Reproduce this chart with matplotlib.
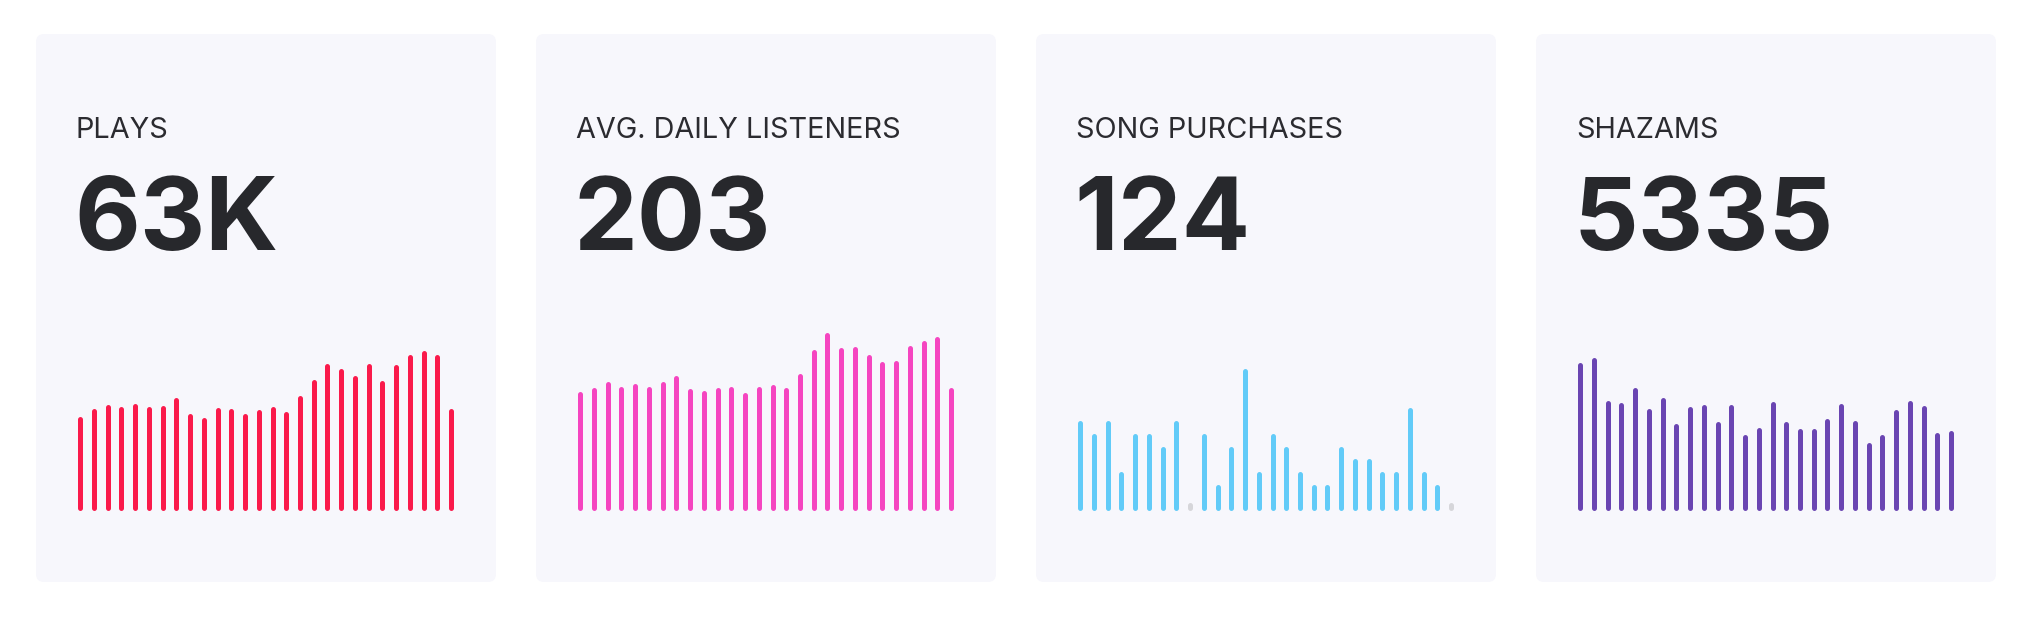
import numpy as np
import matplotlib
matplotlib.use('Agg')
from matplotlib import pyplot as plt
from matplotlib.patches import FancyBboxPatch

plt.rcParams['font.family'] = ['Inter', 'DejaVu Sans']

# card titles and headline numbers
titles = ['PLAYS', 'AVG. DAILY LISTENERS', 'SONG PURCHASES', 'SHAZAMS']
totals = ['63K', '203', '124', '5335']

# daily values, 28 days per card
plays = [1800, 1940, 2030, 1980, 2040, 1980, 2000, 2160, 1860, 1770, 1970, 1950, 1860, 1920,
         1990, 1900, 2190, 2510, 2800, 2720, 2570, 2800, 2490, 2790, 2970, 3050, 2970, 1940]
listeners = [174, 180, 189, 181, 186, 182, 188, 198, 178, 176, 180, 181, 173, 182,
             185, 180, 201, 235, 261, 239, 240, 228, 218, 220, 242, 249, 255, 180]
purchases = [7, 6, 7, 3, 6, 6, 5, 7, 0, 6, 2, 5, 11, 3,
             6, 5, 3, 2, 2, 5, 4, 4, 3, 3, 8, 3, 2, 0]
shazams = [285, 294, 212, 208, 236, 196, 217, 167, 199, 203, 172, 203, 147, 159,
           209, 172, 157, 157, 177, 206, 173, 131, 146, 194, 212, 201, 150, 153]

series = [plays, listeners, purchases, shazams]
colors = ['#fa1a4b', '#f545c0', '#62cbf8', '#6a45b2']
bar_max_px = [160, 178.7, 142.3, 153.3]   # pixel height of tallest bar per card

W, H = 2038, 624
fig = plt.figure(figsize=(W / 100, H / 100), dpi=100)
fig.patch.set_facecolor('white')

bg = fig.add_axes([0, 0, 1, 1])
bg.set_xlim(0, W)
bg.set_ylim(H, 0)
bg.axis('off')

card_w, card_top, card_bot = 460, 34, 582
card_lefts = [36, 536, 1036, 1536]
step = 13.73
first_off = 44.3
bar_bottom = 510.7
ax_h = 220
lw_px = 5.0

for i, left in enumerate(card_lefts):
    card = FancyBboxPatch((left + 8, card_top + 8), card_w - 16, card_bot - card_top - 16,
                          boxstyle='round,pad=8', facecolor='#f7f7fc', edgecolor='none')
    bg.add_patch(card)
    bg.text(left + 40, 138.3, titles[i], fontsize=20.8, color='#2b2b30', va='baseline', ha='left')
    bg.text(left + 38, 250, totals[i], fontsize=73, fontweight='bold', color='#27282c',
            va='baseline', ha='left')

    vals = np.array(series[i], dtype=float)
    s = bar_max_px[i] / vals.max()          # px per unit
    ax = fig.add_axes([left / W, (H - bar_bottom) / H, card_w / W, ax_h / H])
    ax.set_xlim(-first_off / step, (card_w - first_off) / step)
    ax.set_ylim(0, ax_h / s)
    ax.axis('off')
    cap = lw_px / 2 / s
    x = np.arange(len(vals))
    nz = vals > 0
    ax.vlines(x[nz], cap, vals[nz] - cap, colors=colors[i], linewidth=lw_px * 0.72,
              capstyle='round')
    if (~nz).any():
        ax.vlines(x[~nz], cap, 8.3 / s - cap, colors='#d6d6da', linewidth=lw_px * 0.72,
                  capstyle='round')

fig.savefig('out.png', dpi=100, facecolor='white')
